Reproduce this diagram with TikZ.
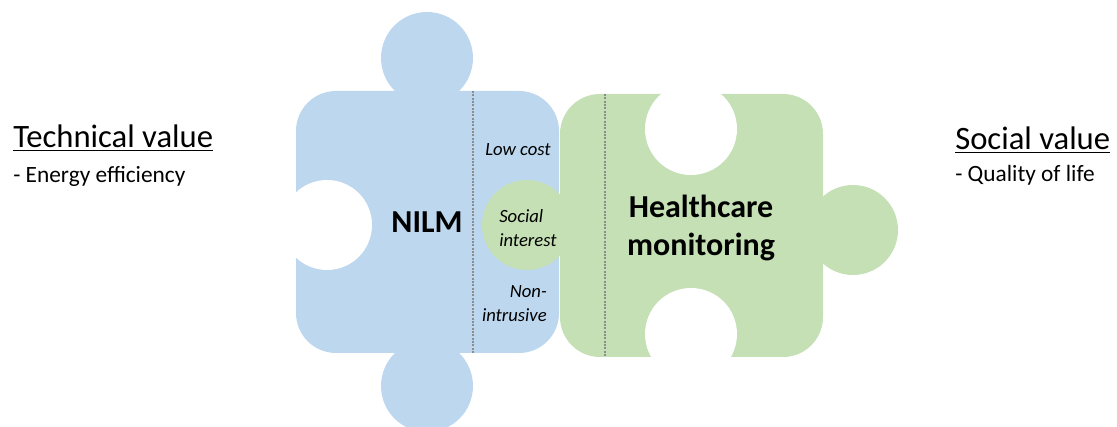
\documentclass[tikz,border=0pt]{standalone}
\usepackage{fontspec}
\setmainfont{Carlito}
\definecolor{pblue}{HTML}{BDD7EE}
\definecolor{pgreen}{HTML}{C5E0B4}
\begin{document}
\begin{tikzpicture}[x=0.75pt,y=-0.75pt,
  piece/.style={rounded corners=30pt},
  sep/.style={dash pattern=on 1.5pt off 1pt, draw=gray!90, line width=1.5pt},
  title/.style={font=\fontsize{24.5pt}{28pt}\selectfont, anchor=base west, inner sep=0pt},
  item/.style={font=\fontsize{17.5pt}{20pt}\selectfont, anchor=base west, inner sep=0pt},
  big/.style={font=\fontsize{24pt}{29pt}\selectfont\bfseries, align=center, inner sep=0pt},
  small/.style={font=\fontsize{14pt}{18pt}\selectfont\itshape, inner sep=0pt}]
\useasboundingbox (0,0) rectangle (1117,427);
% blue piece
\fill[pblue, piece] (296,91) rectangle (559,353);
\fill[pblue] (427,58) circle[radius=46];
\fill[pblue] (427,386) circle[radius=46];
\fill[white] (327,225) circle[radius=45];
\draw[sep] (473,91) -- (473,353);
% green piece
\fill[pgreen, piece] (560,94) rectangle (823,357);
\fill[pgreen] (853,230) circle[radius=45];
\fill[pgreen] (527,225) circle[radius=45];
\fill[white] (691,129) circle[radius=46];
\fill[white] (691,334) circle[radius=46];
\draw[sep] (605,94) -- (605,357);
% texts
\node[big] (nilm) at (427,222) {NILM};
\node[big] (health) at (701,228) {Healthcare\\monitoring};
\node[small, anchor=base west] (low) at (485,156) {Low cost};
\node[small, align=left, anchor=west] (soc) at (499,228.5) {Social\\interest};
\node[small, align=right, anchor=east] (non) at (547,304) {Non-\\intrusive};
\node[title] (tech) at (13,148) {\underline{Technical value}};
\node[item] (energy) at (13,183) {- Energy efficiency};
\node[title] (social) at (955,150) {\underline{Social value}};
\node[item] (quality) at (955,182) {- Quality of life};
\end{tikzpicture}
\end{document}
